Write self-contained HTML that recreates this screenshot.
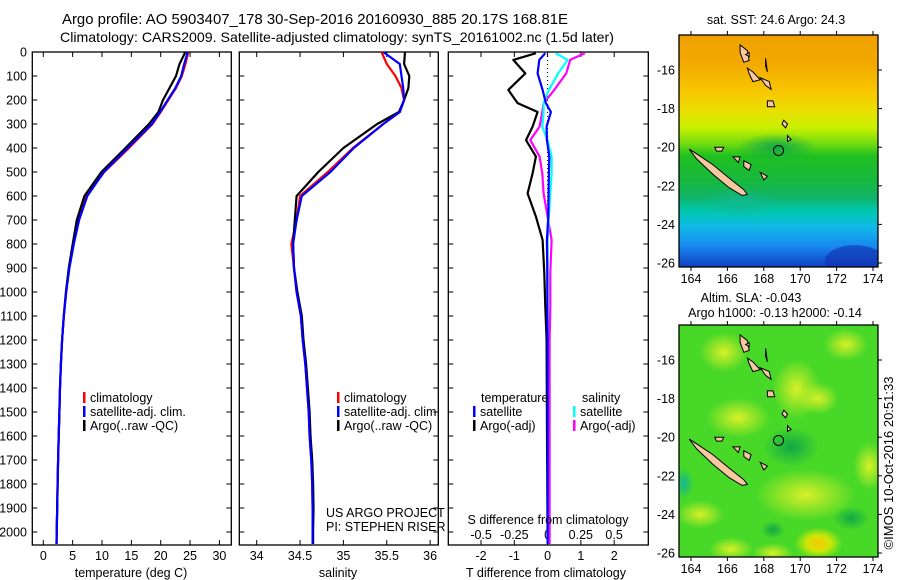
<!DOCTYPE html>
<html><head><meta charset="utf-8"><style>
html,body{margin:0;padding:0;background:#fff;}
svg{display:block;font-family:"Liberation Sans",sans-serif;}
text{fill:#000;}
</style></head><body>
<svg id="fig" width="900" height="580" viewBox="0 0 900 580" xmlns="http://www.w3.org/2000/svg">
<defs>
<linearGradient id="sstGrad" x1="0" y1="0" x2="0" y2="1">
<stop offset="0" stop-color="#f0a000"/><stop offset="0.12" stop-color="#f2a800"/>
<stop offset="0.25" stop-color="#f8c800"/><stop offset="0.33" stop-color="#e8e000"/>
<stop offset="0.40" stop-color="#c8f000"/><stop offset="0.47" stop-color="#70dc10"/>
<stop offset="0.52" stop-color="#20c020"/><stop offset="0.63" stop-color="#18b840"/>
<stop offset="0.70" stop-color="#10b468"/><stop offset="0.76" stop-color="#00c8b0"/>
<stop offset="0.83" stop-color="#10b8e8"/><stop offset="0.91" stop-color="#1888f0"/>
<stop offset="1" stop-color="#1040c0"/></linearGradient>
<radialGradient id="yblob"><stop offset="0" stop-color="#d8f028"/><stop offset="1" stop-color="#d8f028" stop-opacity="0"/></radialGradient>
<radialGradient id="oblob"><stop offset="0" stop-color="#f8c800"/><stop offset="0.5" stop-color="#f0e800" stop-opacity="0.8"/><stop offset="1" stop-color="#e0f000" stop-opacity="0"/></radialGradient>
<radialGradient id="gblob"><stop offset="0" stop-color="#10a848"/><stop offset="1" stop-color="#10a848" stop-opacity="0"/></radialGradient>
<radialGradient id="tblob"><stop offset="0" stop-color="#10b890"/><stop offset="1" stop-color="#10b890" stop-opacity="0"/></radialGradient>
<clipPath id="clip1"><rect x="679" y="35" width="199" height="232"/></clipPath>
<clipPath id="clip2"><rect x="679" y="325" width="199" height="232"/></clipPath>
</defs>
<text x="62" y="24" font-size="14.5" textLength="506" lengthAdjust="spacingAndGlyphs">Argo profile: AO 5903407_178 30-Sep-2016 20160930_885 20.17S 168.81E</text>
<text x="60" y="42" font-size="14" textLength="554" lengthAdjust="spacingAndGlyphs">Climatology: CARS2009. Satellite-adjusted climatology: synTS_20161002.nc (1.5d later)</text>
<g id="p1"></g>
<g id="p2"></g>
<g id="p3"></g>
<g id="m1"></g>
<g id="m2"></g>
<text transform="translate(893,463) rotate(-90)" font-size="13" text-anchor="middle">©IMOS 10-Oct-2016 20:51:33</text>
</svg>
<script>
const depthTicks = [0,100,200,300,400,500,600,700,800,900,1000,1100,1200,1300,1400,1500,1600,1700,1800,1900,2000];
const tempTicks = [0,5,10,15,20,25,30];
const salTicks = [34,34.5,35,35.5,36];
const tdiffTicks = [-2,-1,0,1,2];
const sdiffTicks = [-0.5,-0.25,0,0.25,0.5];
const sdiffTickLabels = ["-0.5","-0.25","0","0.25","0.5"];

const profDepths = [0,50,100,150,200,250,300,400,500,600,700,800,900,1000,1100,1200,1300,1400,1500,1600,1700,1800,1900,2000,2050];
const tempClim = [24.7,24.2,23.6,22.6,21.3,20.0,18.6,14.6,10.4,7.3,6.0,5.1,4.4,3.9,3.5,3.2,3.0,2.85,2.75,2.62,2.52,2.44,2.36,2.28,2.25];
const tempSat  = [24.6,24.0,23.5,22.5,21.2,19.9,18.5,14.4,10.3,7.5,6.1,5.2,4.45,3.9,3.5,3.2,3.0,2.85,2.75,2.62,2.52,2.44,2.36,2.28,2.25];
const tempArgo = [24.2,23.2,22.6,21.5,20.4,19.6,18.0,14.0,9.9,7.0,5.7,5.0,4.35,3.85,3.5,3.2,3.0,2.85,2.75,2.62,2.52,2.44,2.36,2.28,2.25];
const salClim = [35.44,35.50,35.60,35.67,35.70,35.65,35.46,35.11,34.82,34.50,34.46,34.40,34.43,34.46,34.51,34.53,34.56,34.58,34.60,34.61,34.63,34.64,34.645,34.645,34.645];
const salSat  = [35.46,35.65,35.67,35.69,35.70,35.65,35.46,35.12,34.85,34.52,34.46,34.42,34.43,34.46,34.51,34.53,34.56,34.58,34.60,34.61,34.63,34.64,34.645,34.645,34.645];
const salArgo = [35.71,35.70,35.76,35.75,35.70,35.64,35.39,35.00,34.71,34.46,34.44,34.42,34.43,34.47,34.52,34.54,34.57,34.59,34.61,34.62,34.64,34.65,34.655,34.65,34.65];

const diffDepths = [5,33,89,158,213,250,311,367,436,506,589,686,783,922,1061,1200,1500,2050];
const tdiffArgo = [-0.35,-1.03,-0.67,-1.18,-0.9,-0.3,-0.45,-0.65,-0.35,-0.45,-0.6,-0.35,-0.15,-0.1,-0.07,-0.03,-0.02,0];
const tdiffSat  = [-0.07,-0.25,-0.3,-0.15,-0.05,0.1,-0.03,-0.02,0.05,0.04,0.03,0.02,-0.02,-0.01,-0.01,0,0,0];
const sdiffSat  = [0.06,0.15,0.08,0.01,-0.03,-0.03,-0.04,0.0,0.03,0.03,0.02,0.01,0.0,0.0,0.0,0,0,0];
const sdiffArgo = [0.28,0.17,0.14,0.05,-0.03,-0.04,-0.06,-0.13,-0.06,-0.04,-0.03,0.0,0.03,0.02,0.02,0.015,0.015,0.015];

const lonTicks = [164,166,168,170,172,174];
const latTicks = [-16,-18,-20,-22,-24,-26];
const argoLon = 168.81, argoLat = -20.17;

const NS = "http://www.w3.org/2000/svg";
function mk(parent, tag, attrs, txt){const e=document.createElementNS(NS,tag);for(const k in attrs)e.setAttribute(k,attrs[k]);if(txt!==undefined)e.textContent=txt;parent.appendChild(e);return e;}
const TOP=52, BOT=545;
const yD = d => TOP + d*0.24;

function frame(g,x0,x1,name){
  const r=mk(g,'rect',{x:x0,y:TOP,width:x1-x0,height:BOT-TOP,fill:'none',stroke:'#000','stroke-width':1.3});
  
  
  depthTicks.forEach(d=>{
    const t=mk(g,'line',{x1:x0,x2:x0+5,y1:yD(d),y2:yD(d),stroke:'#000'});
    
    
    const t2=mk(g,'line',{x1:x1-5,x2:x1,y1:yD(d),y2:yD(d),stroke:'#000'});
    
    
  });
}
function xticks(g,vals,labels,xf,name){
  vals.forEach((v,i)=>{
    const x=xf(v);
    const a=mk(g,'line',{x1:x,x2:x,y1:TOP,y2:TOP+5,stroke:'#000'});
    
    
    const b=mk(g,'line',{x1:x,x2:x,y1:BOT-5,y2:BOT,stroke:'#000'});
    
    
    const t=mk(g,'text',{x:x,y:BOT+15,'font-size':12.5,'text-anchor':'middle'},labels[i]);
    
    
  });
}
function series(g,xs,ds,xf,color,name,w){
  const pts=xs.map((v,i)=>xf(v).toFixed(1)+','+yD(ds[i]).toFixed(1)).join(' ');
  const p=mk(g,'polyline',{points:pts,fill:'none',stroke:color,'stroke-width':w||2.2,'stroke-linejoin':'round'});
  
  
}
function legend(g,x,y,color,label,name){
  const l=mk(g,'rect',{x:x,y:y-10,width:2.5,height:11,fill:color});
  
  
  const t=mk(g,'text',{x:x+7,y:y,'font-size':12.5},label);
  
  
}

// Panel 1
const p1=document.getElementById('p1');
const xT=v=>43.3+v*5.87;
frame(p1,32.3,231.3,'temperature-panel');
depthTicks.forEach(d=>{
  const t=mk(p1,'text',{x:27,y:yD(d)+4.5,'font-size':12.5,'text-anchor':'end'},String(d));
  
  
});
xticks(p1,tempTicks,tempTicks.map(String),xT,'temperature-axis');
series(p1,tempClim,profDepths,xT,'#ff0000','temperature-climatology-line');
series(p1,tempArgo,profDepths,xT,'#000000','temperature-argo-line');
series(p1,tempSat,profDepths,xT,'#0000ff','temperature-satellite-line');
{const t=mk(p1,'text',{x:131,y:577,'font-size':12.5,'text-anchor':'middle'},'temperature (deg C)');
}
legend(p1,83,402,'#ff0000','climatology','legend-climatology');
legend(p1,83,416,'#0000ff','satellite-adj. clim.','legend-satellite-adj');
legend(p1,83,430,'#000000','Argo(..raw -QC)','legend-argo');

// Panel 2
const p2=document.getElementById('p2');
const xS=v=>256.7+(v-34)*86.7;
frame(p2,239.3,438.3,'salinity-panel');
xticks(p2,salTicks,salTicks.map(String),xS,'salinity-axis');
series(p2,salClim,profDepths,xS,'#ff0000','salinity-climatology-line');
series(p2,salArgo,profDepths,xS,'#000000','salinity-argo-line');
series(p2,salSat,profDepths,xS,'#0000ff','salinity-satellite-line');
{const t=mk(p2,'text',{x:338,y:577,'font-size':12.5,'text-anchor':'middle'},'salinity');
}
legend(p2,337,402,'#ff0000','climatology','legend-climatology');
legend(p2,337,416,'#0000ff','satellite-adj. clim.','legend-satellite-adj');
legend(p2,337,430,'#000000','Argo(..raw -QC)','legend-argo');
{const t=mk(p2,'text',{x:326,y:517,'font-size':12.5},'US ARGO PROJECT');

const t2=mk(p2,'text',{x:326,y:531,'font-size':12.5},'PI: STEPHEN RISER');
}

// Panel 3
const p3=document.getElementById('p3');
const xTd=v=>547.6+v*33.3;
const xSd=v=>547.6+v*133;
frame(p3,448.3,648.3,'difference-panel');
{const z=mk(p3,'line',{x1:xTd(0),x2:xTd(0),y1:TOP,y2:BOT,stroke:'#000','stroke-dasharray':'1,3','stroke-width':1});
}
tdiffTicks.forEach(v=>{
  const x=xTd(v);
  const a=mk(p3,'line',{x1:x,x2:x,y1:TOP,y2:TOP+5,stroke:'#000'});
  
  const b=mk(p3,'line',{x1:x,x2:x,y1:BOT-5,y2:BOT,stroke:'#000'});
  
  const t=mk(p3,'text',{x:x,y:BOT+15,'font-size':12.5,'text-anchor':'middle'},String(v));
  
});
sdiffTicks.forEach((v,i)=>{
  const t=mk(p3,'text',{x:xSd(v),y:539,'font-size':12.5,'text-anchor':'middle'},sdiffTickLabels[i]);
  
});
series(p3,tdiffArgo,diffDepths,xTd,'#000000','tdiff-argo-line');
series(p3,sdiffArgo,diffDepths,xSd,'#ff00ff','sdiff-argo-line');
series(p3,sdiffSat,diffDepths,xSd,'#00ffff','sdiff-satellite-line');
series(p3,tdiffSat,diffDepths,xTd,'#0000ff','tdiff-satellite-line');
{const t=mk(p3,'text',{x:548,y:524,'font-size':12.5,'text-anchor':'middle'},'S difference from climatology');

const t2=mk(p3,'text',{x:546,y:577,'font-size':12.5,'text-anchor':'middle'},'T difference from climatology');

const t3=mk(p3,'text',{x:481,y:402,'font-size':12.5},'temperature');

const t4=mk(p3,'text',{x:582,y:402,'font-size':12.5},'salinity');
}
legend(p3,473,416,'#0000ff','satellite','legend-t-satellite');
legend(p3,473,430,'#000000','Argo(-adj)','legend-t-argo');
legend(p3,573,416,'#00ffff','satellite','legend-s-satellite');
legend(p3,573,430,'#ff00ff','Argo(-adj)','legend-s-argo');

// Maps
function mapPanel(g,top,clipId,kind,titleLines){
  const L=679,R=878,B=top+232;
  const lx=v=>691+(v-164)*18.2;
  const ly=v=>top+35+(-16-v)*19.3;
  const bg=mk(g,'g',{'clip-path':'url(#'+clipId+')'});
  
  if(kind==='sst'){
    mk(bg,'rect',{x:L,y:top,width:R-L,height:232,fill:'url(#sstGrad)'});
    mk(bg,'ellipse',{cx:lx(166.7),cy:ly(-22.9),rx:40,ry:14,fill:'url(#tblob)'});
    mk(bg,'ellipse',{cx:lx(173),cy:ly(-25.9),rx:30,ry:16,fill:'#1030b0',opacity:0.6});
    mk(bg,'ellipse',{cx:lx(168.7),cy:ly(-20),rx:40,ry:14,fill:'url(#gblob)'});
  } else {
    mk(bg,'rect',{x:L,y:top,width:R-L,height:232,fill:'#48d828'});
    [[165.8,-15.6,24,20],[169.8,-17.5,24,30],[172.5,-15.2,22,16],[166.6,-19,32,20],[170.3,-23,50,26],[164.5,-24,24,14],[166.2,-25.8,22,12],[173.8,-21.5,16,24],[171,-18,20,16],[168.5,-26,20,10]].forEach(b=>mk(bg,'ellipse',{cx:lx(b[0]),cy:ly(b[1]),rx:b[2],ry:b[3],fill:'url(#yblob)'}));
    mk(bg,'ellipse',{cx:lx(171),cy:ly(-25.5),rx:24,ry:16,fill:'url(#oblob)'});
    [[169.5,-20.5,28,20],[172.8,-24.2,18,12],[168.5,-24.8,12,9]].forEach(b=>mk(bg,'ellipse',{cx:lx(b[0]),cy:ly(b[1]),rx:b[2],ry:b[3],fill:'url(#gblob)'}));
    mk(bg,'ellipse',{cx:lx(163.6),cy:ly(-22.4),rx:10,ry:16,fill:'url(#tblob)'});
  }
  const isl=[
    [[163.9,-20.1],[164.4,-20.4],[165.2,-20.9],[166.1,-21.6],[166.9,-22.2],[167.1,-22.45],[166.8,-22.5],[166.1,-22.1],[165.2,-21.4],[164.3,-20.6]],
    [[166.7,-14.7],[167.1,-15.0],[167.2,-15.5],[166.9,-15.6],[166.7,-15.1]],
    [[167.1,-15.9],[167.4,-16.1],[167.8,-16.5],[167.4,-16.6],[167.2,-16.2]],
    [[168.1,-15.4],[168.2,-16.1],[168.1,-15.8]],
    [[167.8,-16.4],[168.3,-16.6],[168.4,-17.0],[168.1,-16.8]],
    [[168.2,-17.6],[168.5,-17.6],[168.6,-17.9],[168.2,-17.9]],
    [[169.1,-18.6],[169.3,-18.8],[169.2,-19.0],[169.0,-18.8]],
    [[169.3,-19.4],[169.5,-19.6],[169.3,-19.7]],
    [[167.8,-21.3],[168.2,-21.5],[168.0,-21.7]],
    [[166.9,-20.7],[167.3,-20.9],[167.2,-21.2],[166.9,-21.0]],
    [[165.3,-20.0],[165.8,-20.0],[165.7,-20.2],[165.4,-20.2]],
    [[166.3,-20.5],[166.7,-20.5],[166.6,-20.8]],
    [[167.0,-15.2],[167.2,-15.3],[167.2,-15.1]]
  ];
  isl.forEach(poly=>{
    const p=mk(g,'polygon',{points:poly.map(q=>lx(q[0]).toFixed(1)+','+ly(q[1]).toFixed(1)).join(' '),fill:'#f8c8a0',stroke:'#000','stroke-width':1});
    
  });
  const c=mk(g,'circle',{cx:lx(argoLon),cy:ly(argoLat),r:5,fill:'none',stroke:'#000','stroke-width':1});
  
  const fr=mk(g,'rect',{x:L,y:top,width:R-L,height:232,fill:'none',stroke:'#000','stroke-width':1.3});
  
  lonTicks.forEach(v=>{
    const a=mk(g,'line',{x1:lx(v),x2:lx(v),y1:top,y2:top-4,stroke:'#000'});
    
    const b=mk(g,'line',{x1:lx(v),x2:lx(v),y1:B,y2:B+4,stroke:'#000'});
    
    const t=mk(g,'text',{x:lx(v),y:B+16,'font-size':12.5,'text-anchor':'middle'},String(v));
    
  });
  latTicks.forEach(v=>{
    const a=mk(g,'line',{x1:R,x2:R+4,y1:ly(v),y2:ly(v),stroke:'#000'});
    
    const t=mk(g,'text',{x:675,y:ly(v)+4.5,'font-size':12.5,'text-anchor':'end'},String(v));
    
  });
  titleLines.forEach((s,i)=>{
    const t=mk(g,'text',{x:s[1],y:s[2],'font-size':12.5,'text-anchor':'middle'},s[0]);
    
  });
}
mapPanel(document.getElementById('m1'),35,'clip1','sst',[['sat. SST: 24.6 Argo: 24.3',776,24]]);
mapPanel(document.getElementById('m2'),325,'clip2','sla',[['Altim. SLA: -0.043',751,302],['Argo h1000: -0.13 h2000: -0.14',775,317]]);
</script>
</body></html>
